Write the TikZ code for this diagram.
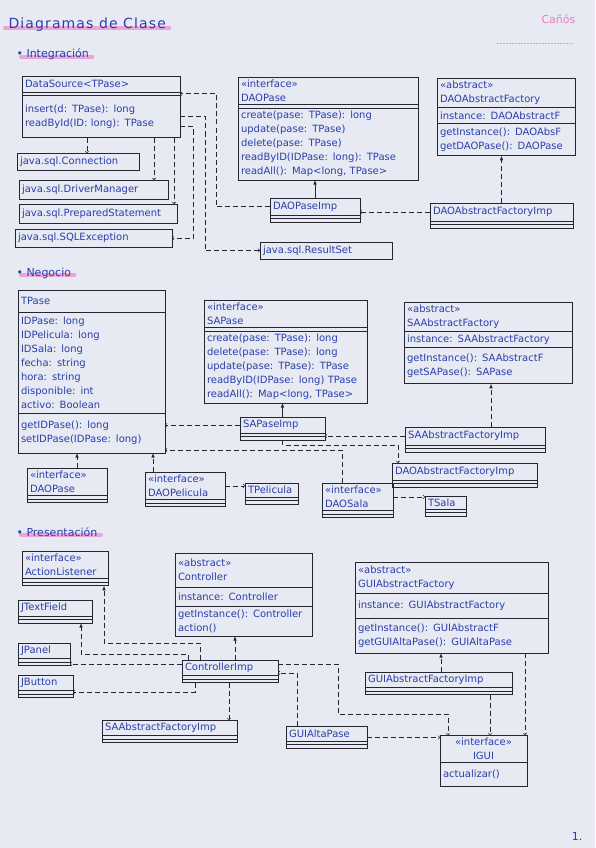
\documentclass[tikz,border=0pt]{standalone}
\usepackage{fontspec}
\setmainfont{DejaVu Sans}
\usepackage{xcolor}
\usetikzlibrary{shapes,arrows,positioning,calc,backgrounds}

\definecolor{paper}{RGB}{231,234,242}
\definecolor{ink}{RGB}{38,38,48}
\definecolor{pen}{RGB}{42,62,172}
\definecolor{marker}{RGB}{238,120,196}

\begin{document}
\begin{tikzpicture}[x=1pt, y=-1pt, node distance=0pt,
    font=\fontsize{10}{14}\selectfont,
    cbox/.style={rectangle, draw=ink, line width=0.6pt, outer sep=0pt, text=pen,
        text width=#1, align=left, inner xsep=3pt, inner ysep=3pt, minimum height=16pt},
    cstrip/.style={rectangle, draw=ink, line width=0.6pt, outer sep=0pt,
        minimum width=#1+6pt, minimum height=3.5pt, inner sep=0pt},
    dep/.style={->, draw=ink, line width=0.6pt, dash pattern=on 5pt off 3pt},
    impl/.style={-latex, draw=ink, line width=0.6pt, dash pattern=on 5pt off 3pt},
    realz/.style={-latex, draw=ink, line width=0.6pt},
    hilite/.style={draw=marker, line width=4pt, opacity=0.6, line cap=round},
    sect/.style={anchor=base west, text=pen, font=\fontsize{11}{13}\selectfont}]

    \useasboundingbox (0,0) rectangle (595,848);

    % headings
    \node[anchor=base west, text=pen, font=\fontsize{14}{16}\selectfont\addfontfeature{LetterSpace=8}] (title) at (5,29) {Diagramas de Clase};
    \node[anchor=base west, text=marker, font=\fontsize{11}{13}\selectfont] (author) at (538,24) {Cañós};
    \node[sect] (sint) at (13,58) {\textbullet\ Integración};
    \node[sect] (sneg) at (13,276) {\textbullet\ Negocio};
    \node[sect] (spre) at (13,536) {\textbullet\ Presentación};
    \node[text=pen, font=\fontsize{11}{13}\selectfont] (pnum) at (577,836) {1.};

    % Integracion
    \node[cbox=152pt, anchor=north west] (ds1) at (22,76) {DataSource<TPase>};
    \node[cstrip=152pt, below=of ds1] (ds2) {};
    \node[cbox=152pt, below=of ds2, minimum height=42pt] (ds3) {insert(d: TPase): long\\readById(ID: long): TPase};

    \node[cbox=116pt, anchor=north west, minimum height=17pt] (jconn) at (17,153) {java.sql.Connection};
    \node[cbox=143pt, anchor=north west, minimum height=19pt] (jdm) at (19,180) {java.sql.DriverManager};
    \node[cbox=152pt, anchor=north west, minimum height=19pt] (jps) at (19,204) {java.sql.PreparedStatement};
    \node[cbox=151pt, anchor=north west, minimum height=18pt] (jsqle) at (15,229) {java.sql.SQLException};
    \node[cbox=126pt, anchor=north west, minimum height=17pt] (jrs) at (260,242) {java.sql.ResultSet};

    \node[cbox=174pt, anchor=north west] (daop1) at (238,77) {«interface»\\DAOPase};
    \node[cstrip=174pt, below=of daop1] (daop2) {};
    \node[cbox=174pt, below=of daop2] (daop3) {create(pase: TPase): long\\update(pase: TPase)\\delete(pase: TPase)\\readByID(IDPase: long): TPase\\readAll(): Map<long, TPase>};

    \node[cbox=132pt, anchor=north west] (daoaf1) at (437,78) {«abstract»\\DAOAbstractFactory};
    \node[cbox=132pt, below=of daoaf1] (daoaf2) {instance: DAOAbstractF};
    \node[cbox=132pt, below=of daoaf2, minimum height=32pt] (daoaf3) {getInstance(): DAOAbsF\\getDAOPase(): DAOPase};

    \node[cbox=84pt, anchor=north west, minimum height=17pt] (daoimp1) at (270,198) {DAOPaseImp};
    \node[cstrip=84pt, below=of daoimp1] (daoimp2) {};
    \node[cstrip=84pt, below=of daoimp2] (daoimp3) {};

    \node[cbox=137pt, anchor=north west, minimum height=18pt] (daoafimp1) at (430,203) {DAOAbstractFactoryImp};
    \node[cstrip=137pt, below=of daoafimp1] (daoafimp2) {};
    \node[cstrip=137pt, below=of daoafimp2] (daoafimp3) {};

    \draw[realz] (daoimp1.north) -- (daoimp1.north |- daop3.south);
    \draw[impl] (daoafimp1.north) -- (daoafimp1.north |- daoaf3.south);
    \draw[dep] (daoafimp1.west) -- (daoafimp1.west -| daoimp1.east);
    \coordinate (dsbend) at ([xshift=36pt]ds2.east);
    \draw[dep] (daoimp1.west) -| (dsbend) -- (ds2.east);
    \coordinate (rsbend) at ([xshift=-55pt]jrs.west);
    \draw[dep] (ds3.east) -| (rsbend) -- (jrs.west);
    \coordinate (exbend) at ([xshift=21pt]jsqle.east);
    \draw[dep] ([yshift=-10pt]ds3.east) -| (exbend) -- (jsqle.east);
    \coordinate (psfoot) at ([xshift=-6pt]ds3.south east);
    \draw[dep] (psfoot) -- (psfoot |- jps.north);
    \coordinate (dmfoot) at ([xshift=-26pt]ds3.south east);
    \draw[dep] (dmfoot) -- (dmfoot |- jdm.north);
    \coordinate (cnfoot) at ([xshift=65pt]ds3.south west);
    \draw[dep] (cnfoot) -- (cnfoot |- jconn.north);

    % Negocio
    \node[cbox=141pt, anchor=north west, minimum height=22pt] (tp1) at (18,290) {TPase};
    \node[cbox=141pt, below=of tp1, minimum height=101pt] (tp2) {IDPase: long\\IDPelicula: long\\IDSala: long\\fecha: string\\hora: string\\disponible: int\\activo: Boolean};
    \node[cbox=141pt, below=of tp2, minimum height=40pt] (tp3) {getIDPase(): long\\setIDPase(IDPase: long)};

    \node[cbox=74pt, anchor=north west] (ndaop1) at (27,468) {«interface»\\DAOPase};
    \node[cstrip=74pt, below=of ndaop1] (ndaop2) {};
    \node[cstrip=74pt, below=of ndaop2] (ndaop3) {};

    \node[cbox=74pt, anchor=north west] (ndpel1) at (145,472) {«interface»\\DAOPelicula};
    \node[cstrip=74pt, below=of ndpel1] (ndpel2) {};
    \node[cstrip=74pt, below=of ndpel2] (ndpel3) {};

    \node[cbox=47pt, anchor=north west, minimum height=14pt, inner ysep=1.5pt] (tpel1) at (245,483) {TPelicula};
    \node[cstrip=47pt, below=of tpel1] (tpel2) {};
    \node[cstrip=47pt, below=of tpel2] (tpel3) {};

    \node[cbox=157pt, anchor=north west] (sap1) at (204,300) {«interface»\\SAPase};
    \node[cstrip=157pt, below=of sap1] (sap2) {};
    \node[cbox=157pt, below=of sap2] (sap3) {create(pase: TPase): long\\delete(pase: TPase): long\\update(pase: TPase): TPase\\readByID(IDPase: long) TPase\\readAll(): Map<long, TPase>};

    \node[cbox=162pt, anchor=north west] (saaf1) at (404,302) {«abstract»\\SAAbstractFactory};
    \node[cbox=162pt, below=of saaf1] (saaf2) {instance: SAAbstractFactory};
    \node[cbox=162pt, below=of saaf2, minimum height=36pt] (saaf3) {getInstance(): SAAbstractF\\getSAPase(): SAPase};

    \node[cbox=79pt, anchor=north west] (sapimp1) at (240,417) {SAPaseImp};
    \node[cstrip=79pt, below=of sapimp1] (sapimp2) {};
    \node[cstrip=79pt, below=of sapimp2] (sapimp3) {};

    \node[cbox=134pt, anchor=north west, minimum height=18pt] (saafimp1) at (405,427) {SAAbstractFactoryImp};
    \node[cstrip=134pt, below=of saafimp1] (saafimp2) {};
    \node[cstrip=134pt, below=of saafimp2] (saafimp3) {};

    \node[cbox=139pt, anchor=north west, minimum height=17pt] (ndafimp1) at (392,463) {DAOAbstractFactoryImp};
    \node[cstrip=139pt, below=of ndafimp1] (ndafimp2) {};
    \node[cstrip=139pt, below=of ndafimp2] (ndafimp3) {};

    \node[cbox=65pt, anchor=north west] (dsala1) at (322,483) {«interface»\\DAOSala};
    \node[cstrip=65pt, below=of dsala1] (dsala2) {};
    \node[cstrip=65pt, below=of dsala2] (dsala3) {};

    \node[cbox=35pt, anchor=north west, minimum height=13pt, inner ysep=1pt] (tsala1) at (425,496) {TSala};
    \node[cstrip=35pt, below=of tsala1] (tsala2) {};
    \node[cstrip=35pt, below=of tsala2] (tsala3) {};

    \draw[realz] (sapimp1.north) -- (sapimp1.north |- sap3.south);
    \draw[dep] (sapimp1.west) -- (sapimp1.west -| tp3.east);
    \coordinate (saafup) at ([xshift=16pt]saafimp1.north);
    \draw[impl] (saafup) -- (saafup |- saaf3.south);
    \draw[dep] (saafimp1.west) -- (saafimp1.west -| sapimp1.east);
    \coordinate (ndafin) at ([xshift=6pt]ndafimp1.north west);
    \draw[dep] (sapimp3.south) -- ++(0,5) -| (ndafin);
    \coordinate (salaup) at ([xshift=20pt]dsala1.north west);
    \coordinate (tpin) at ([yshift=3pt]tp3.south east);
    \draw[dep] (salaup) |- (tpin);
    \draw[dep] (dsala1.east) -- (dsala1.east -| tsala1.west);
    \draw[dep] (ndpel1.east) -- (ndpel1.east -| tpel1.west);
    \coordinate (pelup) at ([xshift=8pt]ndpel1.north west);
    \draw[impl] (pelup) -- (pelup |- tp3.south);
    \coordinate (daopup) at ([xshift=50pt]ndaop1.north west);
    \draw[impl] (daopup) -- (daopup |- tp3.south);

    % Presentacion
    \node[cbox=80pt, anchor=north west] (al1) at (22,551) {«interface»\\ActionListener};
    \node[cstrip=80pt, below=of al1] (al2) {};
    \node[cstrip=80pt, below=of al2] (al3) {};

    \node[cbox=68pt, anchor=north west] (jtf1) at (18,600) {JTextField};
    \node[cstrip=68pt, below=of jtf1] (jtf2) {};
    \node[cstrip=68pt, below=of jtf2] (jtf3) {};

    \node[cbox=46pt, anchor=north west, minimum height=15pt] (jpan1) at (18,643) {JPanel};
    \node[cstrip=46pt, below=of jpan1] (jpan2) {};
    \node[cstrip=46pt, below=of jpan2] (jpan3) {};

    \node[cbox=49pt, anchor=north west, minimum height=15pt] (jbut1) at (18,675) {JButton};
    \node[cstrip=49pt, below=of jbut1] (jbut2) {};
    \node[cstrip=49pt, below=of jbut2] (jbut3) {};

    \node[cbox=131pt, anchor=north west, minimum height=34pt] (ctrl1) at (175,553) {«abstract»\\Controller};
    \node[cbox=131pt, below=of ctrl1, minimum height=19pt] (ctrl2) {instance: Controller};
    \node[cbox=131pt, below=of ctrl2, minimum height=30pt] (ctrl3) {getInstance(): Controller\\action()};

    \node[cbox=90pt, anchor=north west, minimum height=15pt] (ctrlimp1) at (182,660) {ControllerImp};
    \node[cstrip=90pt, below=of ctrlimp1] (ctrlimp2) {};
    \node[cstrip=90pt, below=of ctrlimp2] (ctrlimp3) {};

    \node[cbox=129pt, anchor=north west, minimum height=15pt] (psaafimp1) at (102,720) {SAAbstractFactoryImp};
    \node[cstrip=129pt, below=of psaafimp1] (psaafimp2) {};
    \node[cstrip=129pt, below=of psaafimp2] (psaafimp3) {};

    \node[cbox=187pt, anchor=north west, minimum height=31pt] (guiaf1) at (355,562) {«abstract»\\GUIAbstractFactory};
    \node[cbox=187pt, below=of guiaf1, minimum height=25pt] (guiaf2) {instance: GUIAbstractFactory};
    \node[cbox=187pt, below=of guiaf2, minimum height=35pt] (guiaf3) {getInstance(): GUIAbstractF\\getGUIAltaPase(): GUIAltaPase};

    \node[cbox=141pt, anchor=north west, minimum height=15pt] (guiafimp1) at (365,672) {GUIAbstractFactoryImp};
    \node[cstrip=141pt, below=of guiafimp1] (guiafimp2) {};
    \node[cstrip=141pt, below=of guiafimp2] (guiafimp3) {};

    \node[cbox=75pt, anchor=north west, minimum height=15pt] (guialta1) at (286,726) {GUIAltaPase};
    \node[cstrip=75pt, below=of guialta1] (guialta2) {};
    \node[cstrip=75pt, below=of guialta2] (guialta3) {};

    \node[cbox=81pt, anchor=north west, minimum height=25pt, align=center] (igui1) at (440,735) {«interface»\\IGUI};
    \node[cbox=81pt, below=of igui1, minimum height=24pt] (igui2) {actualizar()};

    \coordinate (ctrlup) at ([xshift=53pt]ctrlimp1.north west);
    \draw[impl] (ctrlup) -- (ctrlup |- ctrl3.south);
    \coordinate (alfoot) at ([xshift=18pt]ctrlimp1.north west);
    \coordinate (alin) at ([xshift=-4pt]al3.south east);
    \draw[impl] (alfoot) -- ++(0,-17) -| (alin);
    \coordinate (tffoot) at ([xshift=6pt]ctrlimp1.north west);
    \coordinate (tfin) at ([xshift=-11pt]jtf3.south east);
    \draw[impl] (tffoot) -- ++(0,-6) -| (tfin);
    \draw[dep] (ctrlimp1.west |- jpan3.east) -- (jpan3.east);
    \coordinate (btfoot) at ([xshift=13pt]ctrlimp3.south west);
    \draw[dep] (btfoot) |- (jbut2.east);
    \coordinate (safoot) at ([xshift=47pt]ctrlimp3.south west);
    \draw[dep] (safoot) -- (safoot |- psaafimp1.north);
    \coordinate (iguiin) at ([xshift=8pt]igui1.north west);
    \draw[dep] ([yshift=4pt]ctrlimp1.east) -- ++(60,0) |- ([yshift=21pt]iguiin) -- (iguiin);
    \coordinate (altaup) at ([xshift=11pt]guialta1.north west);
    \draw[dep] (altaup) |- ([yshift=-5pt]ctrlimp1.east);
    \coordinate (altaout) at ([yshift=-4pt]guialta1.east);
    \draw[dep] (altaout) -- (altaout -| igui1.west);
    \coordinate (guiup) at ([xshift=76pt]guiafimp1.north west);
    \draw[impl] (guiup) -- (guiup |- guiaf3.south);
    \coordinate (guidn) at ([xshift=125pt]guiafimp3.south west);
    \draw[dep] (guidn) -- (guidn |- igui1.north);
    \coordinate (afdn) at ([xshift=-23pt]guiaf3.south east);
    \draw[dep] (afdn) -- (afdn |- igui1.north);

    % paper and marker strokes
    \begin{scope}[on background layer]
        \fill[paper] (0,0) rectangle (595,848);
        \draw[hilite] ([yshift=1pt]title.base west) -- ([yshift=1pt]title.base east);
        \draw[hilite] ([xshift=8pt,yshift=1pt]sint.base west) -- ([yshift=1pt]sint.base east);
        \draw[hilite] ([xshift=8pt,yshift=1pt]sneg.base west) -- ([yshift=1pt]sneg.base east);
        \draw[hilite] ([xshift=8pt,yshift=1pt]spre.base west) -- ([yshift=1pt]spre.base east);
        \draw[marker, line width=0.8pt, opacity=0.7, dash pattern=on 1.5pt off 1.5pt] ([xshift=-41pt,yshift=-19pt]author.base west) -- ([xshift=-6pt,yshift=-19pt]author.base east);
    \end{scope}
\end{tikzpicture}
\end{document}
